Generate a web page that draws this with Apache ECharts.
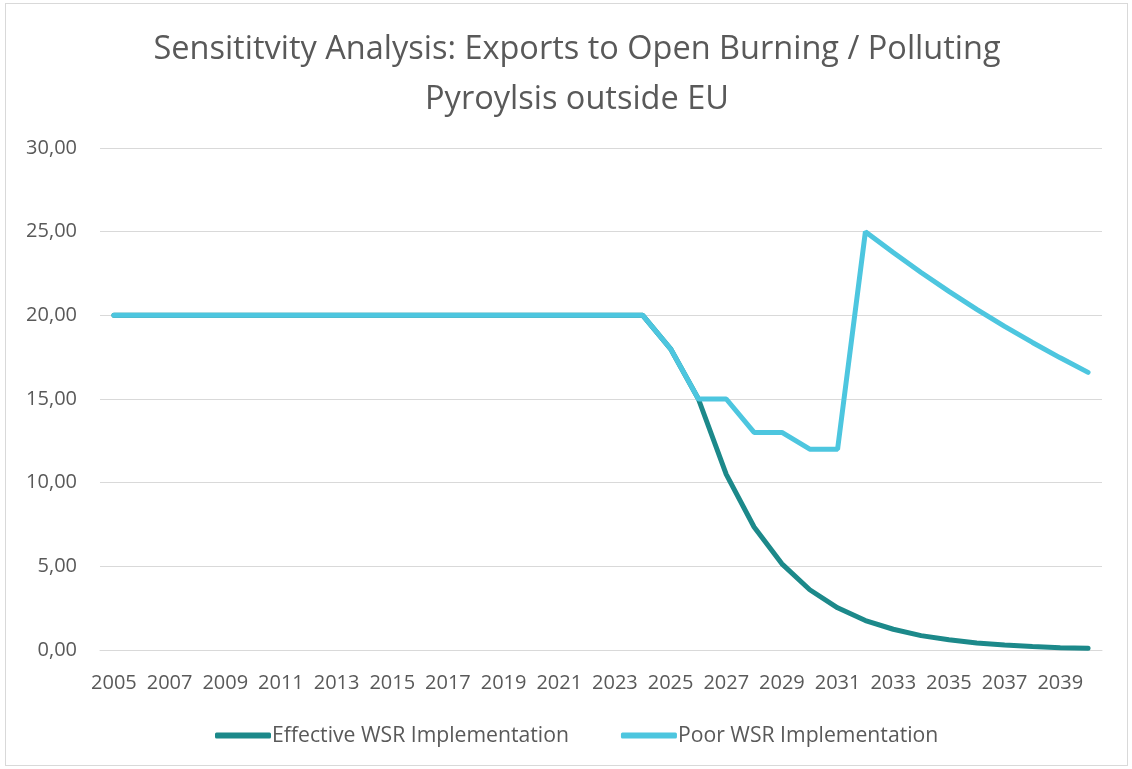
<!DOCTYPE html>
<html><head><meta charset="utf-8">
<script src="https://cdn.jsdelivr.net/npm/echarts@6/dist/echarts.min.js"></script>
<style>
html,body{margin:0;padding:0;background:#fff;}
#frame{position:absolute;left:5px;top:3px;width:1123px;height:763px;border:1px solid #d9d9d9;box-sizing:border-box;}
#c{position:absolute;left:0;top:0;width:1132px;height:769px;}
</style></head>
<body><div id="frame"></div><div id="c"></div>
<script>
const years = [];
for (let y = 2005; y <= 2040; y++) years.push(String(y));
const effective = [20,20,20,20,20,20,20,20,20,20,20,20,20,20,20,20,20,20,20,20,18,15,10.5,7.35,5.15,3.6,2.52,1.76,1.24,0.86,0.61,0.42,0.30,0.21,0.14,0.10];
const poor = [20,20,20,20,20,20,20,20,20,20,20,20,20,20,20,20,20,20,20,20,18,15,15,13,13,12,12,25,23.75,22.56,21.43,20.36,19.34,18.38,17.46,16.59];
const yTicks = [0,5,10,15,20,25,30];
const titleText = 'Sensititvity Analysis: Exports to Open Burning / Polluting\nPyroylsis outside EU';
const seriesNames = ['Effective WSR Implementation','Poor WSR Implementation'];

const chart = echarts.init(document.getElementById('c'));
const txt = '#595959';
chart.setOption({
  animation:false,
  textStyle:{fontFamily:'Open Sans'},
  title:{text:titleText,left:572,textAlign:'center',top:20,textStyle:{fontFamily:'Open Sans',fontSize:32.5,fontWeight:'normal',color:txt,lineHeight:50}},
  grid:{left:100,right:30,top:148,bottom:119,containLabel:false},
  legend:{bottom:18,left:210,itemGap:52,itemWidth:56,itemHeight:6,icon:'roundRect',
    textStyle:{fontFamily:'Open Sans',fontSize:21.2,color:txt,padding:[0,0,0,-4]},
    data:seriesNames},
  xAxis:{type:'category',data:years,boundaryGap:true,
    axisLine:{lineStyle:{color:'#d9d9d9',width:1}},axisTick:{show:false},
    axisLabel:{interval:1,color:txt,fontSize:20,margin:23,fontFamily:'Open Sans'}},
  yAxis:{type:'value',min:yTicks[0],max:yTicks[yTicks.length-1],interval:5,
    axisLine:{show:false},axisTick:{show:false},
    splitLine:{lineStyle:{color:'#d9d9d9',width:1}},
    axisLabel:{color:txt,fontSize:20,margin:23,fontFamily:'Open Sans',formatter:v=>v.toFixed(2).replace('.',',')}},
  series:[
    {name:seriesNames[0],type:'line',data:effective,symbol:'none',lineStyle:{width:5,color:'#1C898A',cap:'round'},itemStyle:{color:'#1C898A'},z:2},
    {name:seriesNames[1],type:'line',data:poor,symbol:'none',lineStyle:{width:5,color:'#4DC6DF',cap:'round'},itemStyle:{color:'#4DC6DF'},z:3}
  ]
});
</script></body></html>
